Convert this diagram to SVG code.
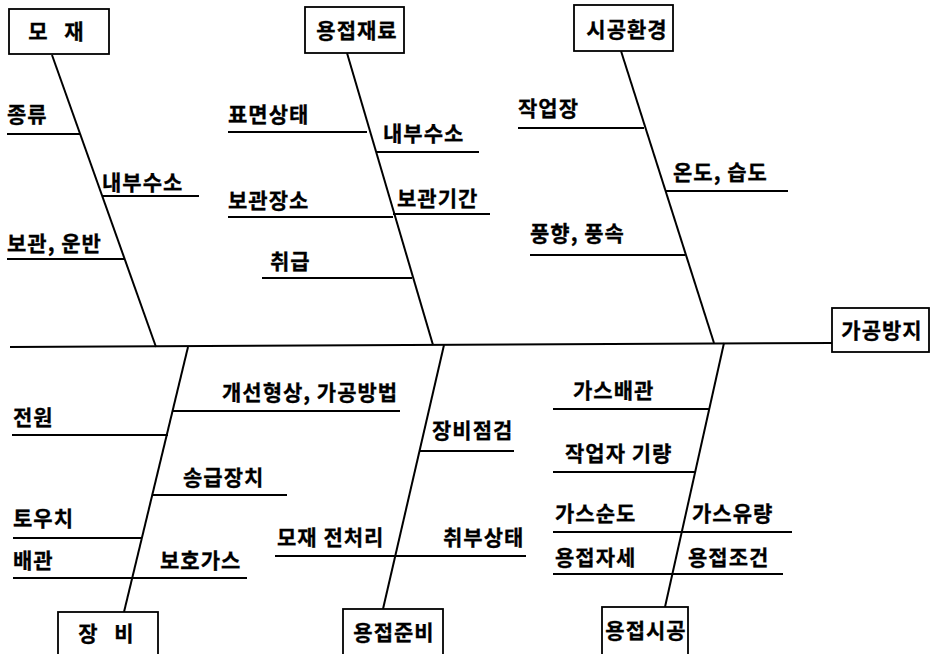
<svg xmlns="http://www.w3.org/2000/svg" width="930" height="654" viewBox="0 0 930 654">
<style>
.box{fill:#fff;stroke:#000;stroke-width:1.8}
.bone{stroke:#000;stroke-width:2;fill:none}
.sub{stroke:#000;stroke-width:1.8;fill:none}
text{font-family:"Noto Sans CJK KR","Noto Sans",sans-serif;font-size:21px;font-weight:bold;fill:#000;stroke:#000;stroke-width:0.3;letter-spacing:1px}
.c{text-anchor:middle}
</style>
<rect width="930" height="654" fill="#fff"/>
<g id="connectors">
<line class="bone" x1="10" y1="347" x2="832" y2="343"/>
<line class="bone" x1="52" y1="55" x2="156" y2="347"/>
<line class="bone" x1="347" y1="53" x2="433" y2="345"/>
<line class="bone" x1="621" y1="51" x2="714" y2="343"/>
<line class="bone" x1="188" y1="347" x2="124" y2="612"/>
<line class="bone" x1="444" y1="345" x2="383" y2="609"/>
<line class="bone" x1="724" y1="343" x2="665" y2="607"/>
<line class="sub" x1="7" y1="134" x2="80" y2="134"/>
<line class="sub" x1="102" y1="196" x2="199" y2="196"/>
<line class="sub" x1="7" y1="259" x2="124" y2="259"/>
<line class="sub" x1="228" y1="132" x2="367" y2="132"/>
<line class="sub" x1="376" y1="152" x2="479" y2="152"/>
<line class="sub" x1="228" y1="217" x2="393" y2="217"/>
<line class="sub" x1="393" y1="214" x2="490" y2="214"/>
<line class="sub" x1="262" y1="278" x2="412" y2="278"/>
<line class="sub" x1="518" y1="128" x2="644" y2="128"/>
<line class="sub" x1="666" y1="191" x2="788" y2="191"/>
<line class="sub" x1="530" y1="255" x2="685" y2="255"/>
<line class="sub" x1="173" y1="411" x2="400" y2="411"/>
<line class="sub" x1="12" y1="435" x2="168" y2="435"/>
<line class="sub" x1="153" y1="495" x2="287" y2="495"/>
<line class="sub" x1="13" y1="538" x2="141" y2="538"/>
<line class="sub" x1="13" y1="578" x2="247" y2="578"/>
<line class="sub" x1="420" y1="451" x2="514" y2="451"/>
<line class="sub" x1="275" y1="556" x2="526" y2="556"/>
<line class="sub" x1="553" y1="409" x2="710" y2="409"/>
<line class="sub" x1="553" y1="472" x2="696" y2="472"/>
<line class="sub" x1="553" y1="532" x2="792" y2="532"/>
<line class="sub" x1="553" y1="574" x2="783" y2="574"/>
</g>
<g id="node-mojae"><rect class="box" x="9" y="9" width="100" height="45"/><text class="c" x="59" y="39" style="letter-spacing:6px">모 재</text></g>
<g id="node-jaeryo"><rect class="box" x="305" y="7" width="99" height="46"/><text class="c" x="357" y="38">용접재료</text></g>
<g id="node-hwangyeong"><rect class="box" x="574" y="5" width="99" height="46"/><text class="c" x="627" y="37">시공환경</text></g>
<g id="node-effect"><rect class="box" x="832" y="308" width="97" height="44"/><text class="c" x="882" y="338">가공방지</text></g>
<g id="node-jangbi"><rect class="box" x="58" y="612" width="100" height="48"/><text class="c" x="109" y="641" style="letter-spacing:6px">장 비</text></g>
<g id="node-junbi"><rect class="box" x="343" y="609" width="100" height="50"/><text class="c" x="394" y="640">용접준비</text></g>
<g id="node-sigong"><rect class="box" x="602" y="607" width="86" height="52"/><text class="c" x="646" y="638">용접시공</text></g>
<g id="labels">
<text x="7" y="122">종류</text>
<text x="102" y="190">내부수소</text>
<text x="7" y="251">보관, 운반</text>
<text x="228" y="122">표면상태</text>
<text x="383" y="141">내부수소</text>
<text x="228" y="208">보관장소</text>
<text x="397" y="206">보관기간</text>
<text x="270" y="269">취급</text>
<text x="518" y="116">작업장</text>
<text x="673" y="180">온도, 습도</text>
<text x="530" y="241">풍향, 풍속</text>
<text x="222" y="400">개선형상, 가공방법</text>
<text x="13" y="425">전원</text>
<text x="183" y="485">송급장치</text>
<text x="13" y="526">토우치</text>
<text x="13" y="568">배관</text>
<text x="160" y="568">보호가스</text>
<text x="277" y="545">모재 전처리</text>
<text x="432" y="438">장비점검</text>
<text x="443" y="545">취부상태</text>
<text x="573" y="398">가스배관</text>
<text x="565" y="461">작업자 기량</text>
<text x="555" y="521">가스순도</text>
<text x="692" y="521">가스유량</text>
<text x="555" y="565">용접자세</text>
<text x="688" y="565">용접조건</text>
</g>
</svg>
